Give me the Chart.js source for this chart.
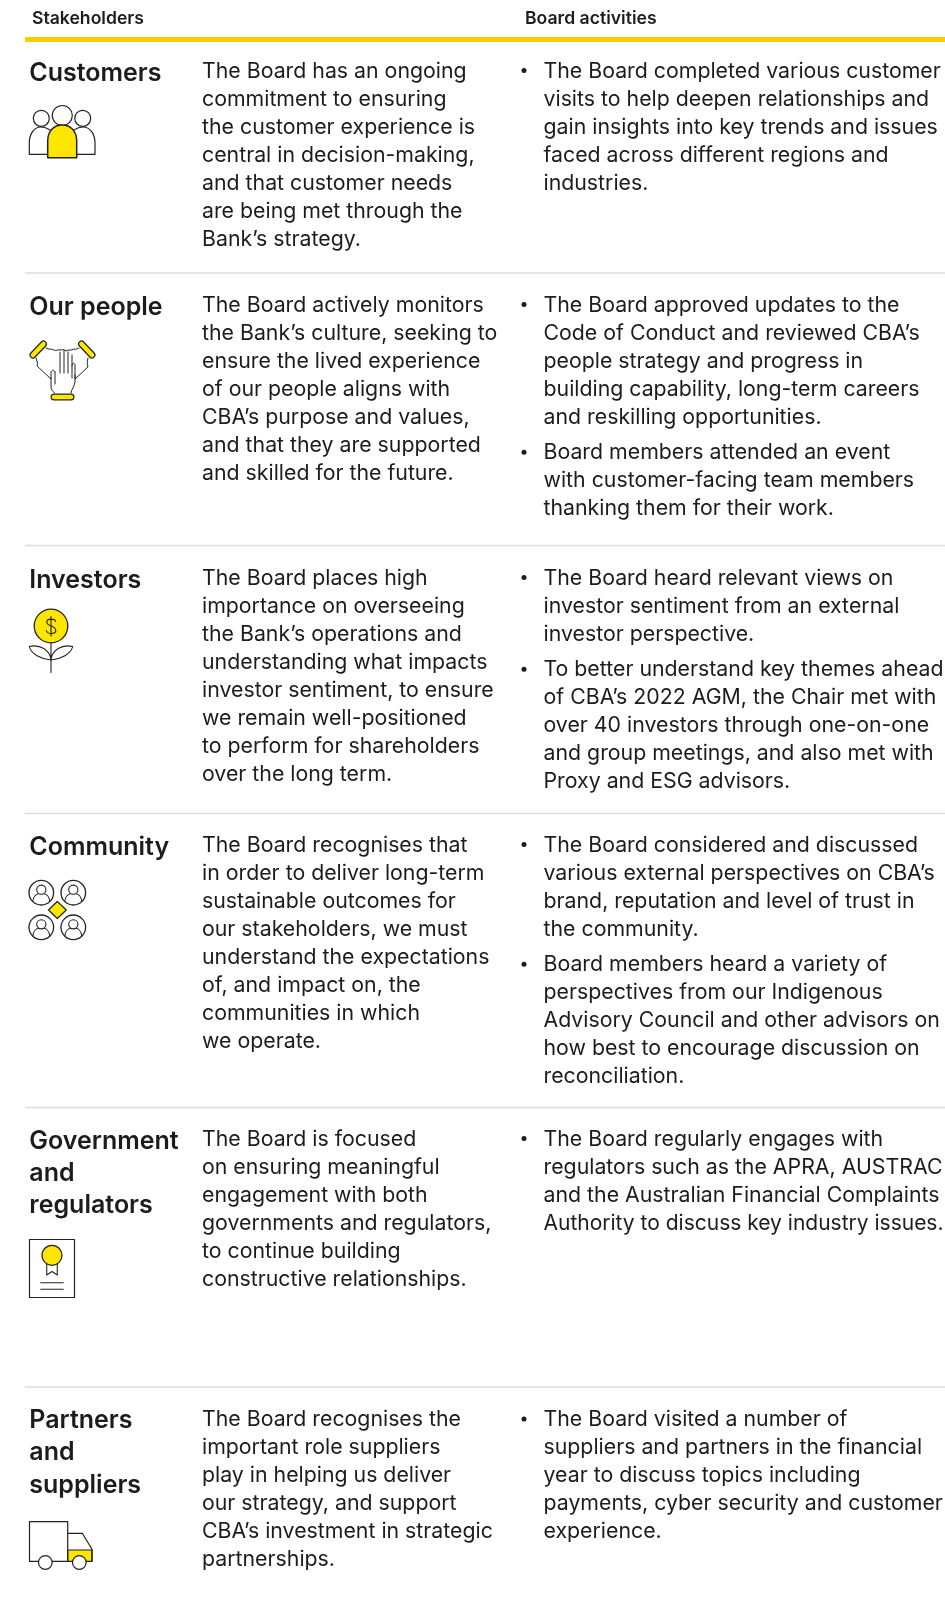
<!DOCTYPE html>
<html><head><meta charset="utf-8">
<style>html,body{margin:0;padding:0;background:#fff}canvas{display:block}</style>
<script src="https://cdn.jsdelivr.net/npm/chart.js@4"></script>
</head><body><canvas id="c" width="945" height="1610"></canvas>
<script>
const columnHeaders = ["Stakeholders","Board activities"];
const stakeholders = [["Customers"],["Our people"],["Investors"],["Community"],["Government","and","regulators"],["Partners","and","suppliers"]];
const descriptions = [
["The Board has an ongoing","commitment to ensuring","the customer experience is","central in decision-making,","and that customer needs","are being met through the","Bank’s strategy."],
["The Board actively monitors","the Bank’s culture, seeking to","ensure the lived experience","of our people aligns with","CBA’s purpose and values,","and that they are supported","and skilled for the future."],
["The Board places high","importance on overseeing","the Bank’s operations and","understanding what impacts","investor sentiment, to ensure","we remain well-positioned","to perform for shareholders","over the long term."],
["The Board recognises that","in order to deliver long-term","sustainable outcomes for","our stakeholders, we must","understand the expectations","of, and impact on, the","communities in which","we operate."],
["The Board is focused","on ensuring meaningful","engagement with both","governments and regulators,","to continue building","constructive relationships."],
["The Board recognises the","important role suppliers","play in helping us deliver","our strategy, and support","CBA’s investment in strategic","partnerships."]];
const activities = [
[["The Board completed various customer","visits to help deepen relationships and","gain insights into key trends and issues","faced across different regions and","industries."]],
[["The Board approved updates to the","Code of Conduct and reviewed CBA’s","people strategy and progress in","building capability, long-term careers","and reskilling opportunities."],["Board members attended an event","with customer-facing team members","thanking them for their work."]],
[["The Board heard relevant views on","investor sentiment from an external","investor perspective."],["To better understand key themes ahead","of CBA’s 2022 AGM, the Chair met with","over 40 investors through one-on-one","and group meetings, and also met with","Proxy and ESG advisors."]],
[["The Board considered and discussed","various external perspectives on CBA’s","brand, reputation and level of trust in","the community."],["Board members heard a variety of","perspectives from our Indigenous","Advisory Council and other advisors on","how best to encourage discussion on","reconciliation."]],
[["The Board regularly engages with","regulators such as the APRA, AUSTRAC","and the Australian Financial Complaints","Authority to discuss key industry issues."]],
[["The Board visited a number of","suppliers and partners in the financial","year to discuss topics including","payments, cyber security and customer","experience."]]];
// layout (page units)
const rowBaseline = [77.5,311.5,584.5,851.5,1145.5,1426];
const titleOffset = [3,3,3,3,3,2];
const ruleRows = [273,545.5,813.5,1107.5,1387];
const headerRule = 39.5;
const LINE = 28.05, TITLE_LINE = 32.3, BULLET_GAP = 7.5, ACT_MAX = 400;
const X = {rule:25, title:29.3, desc:202, bullet:524, act:543.5, head1:32, head2:525, end:945};
const INK = "#1c1c1c", YEL = "#FFE600", BAR = "#FFCC00", RULE = "#DEDEDE";
const FONT = "Inter";

function icons(c){
  const P=(d,fill,lw)=>{const p=new Path2D(d); if(fill){c.fillStyle=fill;c.fill(p);} c.lineWidth=lw||1.2;c.strokeStyle="#222";c.stroke(p);};
  const O=(x,y,r)=>`M${x+r} ${y}A${r} ${r} 0 1 1 ${x-r} ${y}A${r} ${r} 0 1 1 ${x+r} ${y}Z`;
  c.lineJoin="round";c.lineCap="round";
  // customers
  P(O(41.3,118.3,8));P(O(82.7,118.3,8));P(O(62.3,115.5,10));
  P("M47.5 154.3H29.3V143C29.3 134 34 127 41 127C44 127 47 128 50 130");
  P("M76.5 154.3H95V143C95 134 90 127 83 127C80 127 77 128 74 130");
  P("M47.7 157.7V141C47.7 131 54 125 62.2 125C70.5 125 76.7 131 76.7 141V157.7Z",YEL,1.5);
  // people
  const bar=(a,b,d,e)=>{c.save();c.lineCap="round";c.strokeStyle="#222";c.lineWidth=7;c.beginPath();c.moveTo(a,b);c.lineTo(d,e);c.stroke();c.strokeStyle=YEL;c.lineWidth=4.6;c.beginPath();c.moveTo(a,b);c.lineTo(d,e);c.stroke();c.restore();};
  bar(33,355,43.5,344);bar(81.5,344,92,355);bar(54,397,71,397);
  P("M46 348C49 350 52 348.5 54 350C56 351.500 58 349 61 350C63 349 65 350 66 351C69 349 71 351 74 349C76 350 78 348 79 348M36 358C37 361 38 363 37 366L51 379V373C51 370 54 369 55 372M88 358C87 361 87 364 88 367L75 379V365C75 363 72 362 72 366M51 378V387C51 390 53 391 54.500 393M75 375V381C75 387 71 389 71 393M55 372V384M60 352V373M64 350V373M68 352V373M72 355V378",null,1);
  // investors
  P(O(51,626,16.8),YEL,1.3);
  P("M51 643V672.500M51 660C41 659 31 654 29.300 646.500C40 644 50 650 51 660ZM51 660C61 659 71 654 72.700 646.500C62 644 52 650 51 660Z",null,1.1);
  P("M55.500 621.500C55 618.500 47 618 46.800 622C46.800 627 55.800 625 55.800 630.500C55.800 634.500 47 634.500 46.300 630.500M51 616.500V636",null,1.1);
  // community
  for(const [x,y] of [[41.3,892.7],[73.3,892.7],[41.3,927.3],[73.3,927.3]]){
    P(O(x,y,12.3),null,1.3);P(O(x,y-3,4.6),null,1.1);
    P(`M${x-8.4} ${y+8.5}C${x-8} ${y+4} ${x-5} ${y+1.500} ${x-3} ${y+1}M${x+8.4} ${y+8.5}C${x+8} ${y+4} ${x+5} ${y+1.500} ${x+3} ${y+1}`,null,1.1);
  }
  P("M57.3 901.500L66.300 910L57.300 918.500L48.500 910Z",YEL,1.2);
  // certificate
  P("M29.500 1239.500H74.500V1297.500H29.500Z",null,1.2);
  P("M46.700 1263V1275L52 1271.500L57.300 1275V1263",null,1.1);
  P(O(52,1255.3,10),YEL,1.2);
  P("M40.700 1282.700H63.300M40.700 1289.300H63.300",null,1.1);
  // truck
  P("M67.700 1550H92V1561.300H67.700Z",YEL,1.2);
  P("M38 1561.300H29.500V1521.700H67.700V1561.300H52M67.700 1533.300H82.300L92 1549.300V1561.300",null,1.2);
  P(O(45.3,1562.5,6.8),"#fff",1.2);P(O(79.3,1562.5,6.8),"#fff",1.2);
}

const textPlugin = {
  id:"tableText",
  afterDatasetsDraw(chart){
    const c=chart.ctx, sx=v=>chart.scales.x.getPixelForValue(v), sy=v=>chart.scales.y.getPixelForValue(v);
    c.save();c.textBaseline="alphabetic";c.textAlign="left";c.fillStyle=INK;
    const put=(t,x,y,m)=>m?c.fillText(t,sx(x),sy(y),m):c.fillText(t,sx(x),sy(y));
    c.font=`600 17.6px ${FONT}`;
    put(columnHeaders[0],X.head1,24);put(columnHeaders[1],X.head2,24);
    stakeholders.forEach((ls,i)=>{
      c.font=`600 25px ${FONT}`;
      ls.forEach((t,j)=>put(t,X.title,rowBaseline[i]+titleOffset[i]+j*TITLE_LINE));
      c.font=`400 21.3px ${FONT}`;
      descriptions[i].forEach((t,j)=>put(t,X.desc,rowBaseline[i]+j*LINE));
      let y=rowBaseline[i];
      activities[i].forEach(b=>{
        c.beginPath();c.arc(sx(X.bullet),sy(y-7),2.5,0,Math.PI*2);c.fill();
        b.forEach(t=>{put(t,X.act,y,ACT_MAX);y+=LINE;});
        y+=BULLET_GAP;
      });
    });
    c.restore();
    c.save();icons(c);c.restore();
  }
};
const seg=(y,color,w)=>({data:[{x:X.rule,y},{x:X.end,y}],borderColor:color,borderWidth:w,pointRadius:0,showLine:true,clip:false});
new Chart(document.getElementById("c"),{
  type:"scatter",
  data:{datasets:[seg(headerRule,BAR,5),...ruleRows.map(y=>seg(y,RULE,1.5))]},
  options:{responsive:false,animation:false,events:[],layout:{padding:0},
    plugins:{legend:{display:false},tooltip:{enabled:false}},
    scales:{x:{type:"linear",min:0,max:945,display:false},y:{type:"linear",min:0,max:1610,reverse:true,display:false}}},
  plugins:[textPlugin]
});
</script></body></html>
